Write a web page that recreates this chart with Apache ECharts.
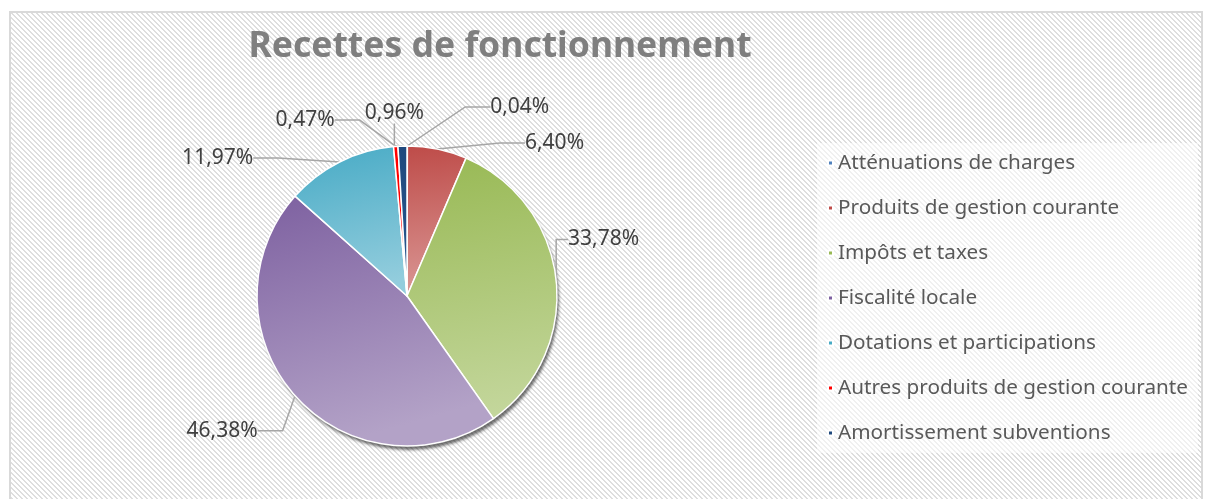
<!DOCTYPE html>
<html>
<head>
<meta charset="utf-8">
<script src="https://cdn.jsdelivr.net/npm/echarts@6/dist/echarts.min.js"></script>
<style>
  html, body { margin: 0; padding: 0; background: #ffffff; width: 1209px; height: 499px; overflow: hidden; }
  #frame {
    position: absolute; left: 9px; top: 11px; width: 1190px; height: 500px;
    border: 2px solid #d9d9d9; border-bottom: none;
    background-color: #ffffff;
  }
  #chart { position: absolute; left: 0; top: 0; width: 1209px; height: 499px; }
</style>
</head>
<body>
<div id="frame"></div>
<div id="chart"></div>
<script>
const titleText = 'Recettes de fonctionnement';
const categories = [
  'Atténuations de charges',
  'Produits de gestion courante',
  'Impôts et taxes',
  'Fiscalité locale',
  'Dotations et participations',
  'Autres produits de gestion courante',
  'Amortissement subventions'
];
const values = [0.04, 6.40, 33.78, 46.38, 11.97, 0.47, 0.96];
const colorsTop = ['#4F81BD', '#BE4B48', '#98B954', '#7D60A0', '#46AAC5', '#FF0000', '#1F497D'];
const colorsBottom = ['#95B3D7', '#DA9896', '#C3D69B', '#B3A2C7', '#93CDDD', '#FF0000', '#2A5A92'];

// label nudges (layout only, px) to mimic the reference's best-fit label placement
const labelNudge = [[53, -21], [8, -8], [-31, -39], [6, 23], [-13, -16], [38, -31], [52, -15]];

// pixel-exact diagonal hatch for the chart area background
(function () {
  const c = document.createElement('canvas');
  c.width = 5; c.height = 5;
  const g = c.getContext('2d');
  g.fillStyle = '#ffffff'; g.fillRect(0, 0, 5, 5);
  g.fillStyle = '#dedede';
  for (let y = 0; y < 5; y++) {
    g.fillRect(y % 5, y, 1, 1);
    g.fillRect((y + 1) % 5, y, 1, 1);
  }
  document.getElementById('frame').style.backgroundImage = 'url(' + c.toDataURL() + ')';
})();

function grad(i) {
  return new echarts.graphic.LinearGradient(0, 0, 0.3, 1, [
    { offset: 0, color: colorsTop[i] },
    { offset: 1, color: colorsBottom[i] }
  ]);
}

const chart = echarts.init(document.getElementById('chart'), null, { renderer: 'canvas' });
const fontFam = '"Noto Sans", "Open Sans", sans-serif';

chart.setOption({
  backgroundColor: 'transparent',
  animation: false,
  title: {
    text: titleText,
    left: 495,
    top: 24,
    textAlign: 'center',
    textStyle: { fontFamily: fontFam, fontWeight: 'bold', fontSize: 35.5, color: '#7f7f7f' }
  },
  legend: {
    orient: 'vertical',
    left: 817,
    top: 143,
    padding: [8, 10, 8, 10],
    backgroundColor: 'rgba(255,255,255,0.55)',
    icon: 'rect',
    itemWidth: 5,
    itemHeight: 5,
    itemGap: 21,
    textStyle: { fontFamily: fontFam, fontSize: 20.7, color: '#595959', lineHeight: 24 },
    data: categories.map((c, i) => ({ name: c, itemStyle: { color: colorsTop[i] } }))
  },
  series: [
    {
      type: 'pie',
      silent: true,
      center: [407, 296],
      radius: 150,
      z: 1,
      label: { show: false },
      labelLine: { show: false },
      itemStyle: {
        color: '#3a3a3a',
        shadowColor: 'rgba(0,0,0,0.55)',
        shadowBlur: 3,
        shadowOffsetX: 2,
        shadowOffsetY: 4
      },
      data: [{ value: 1, name: '_shadow' }],
      legendHoverLink: false
    },
    {
      type: 'pie',
      name: titleText,
      center: [407, 296],
      radius: 150,
      startAngle: 90,
      clockwise: true,
      z: 2,
      itemStyle: { borderColor: '#ffffff', borderWidth: 1.5 },
      label: {
        show: true,
        position: 'outside',
        fontFamily: fontFam,
        fontSize: 21,
        color: '#404040',
        formatter: p => p.value.toFixed(2).replace('.', ',') + '%'
      },
      labelLine: { show: true, length: 18, length2: 25, lineStyle: { color: '#a6a6a6', width: 1.5 } },
      labelLayout: function (params) {
        const n = labelNudge[params.dataIndex] || [0, 0];
        const r = params.labelRect;
        const right = params.align === 'right';
        return {
          x: (right ? r.x + r.width : r.x) + n[0],
          y: r.y + r.height / 2 + n[1],
          align: right ? 'right' : 'left',
          verticalAlign: 'middle'
        };
      },
      data: categories.map((c, i) => ({ name: c, value: values[i], itemStyle: { color: grad(i) } }))
    }
  ]
});
</script>
</body>
</html>
